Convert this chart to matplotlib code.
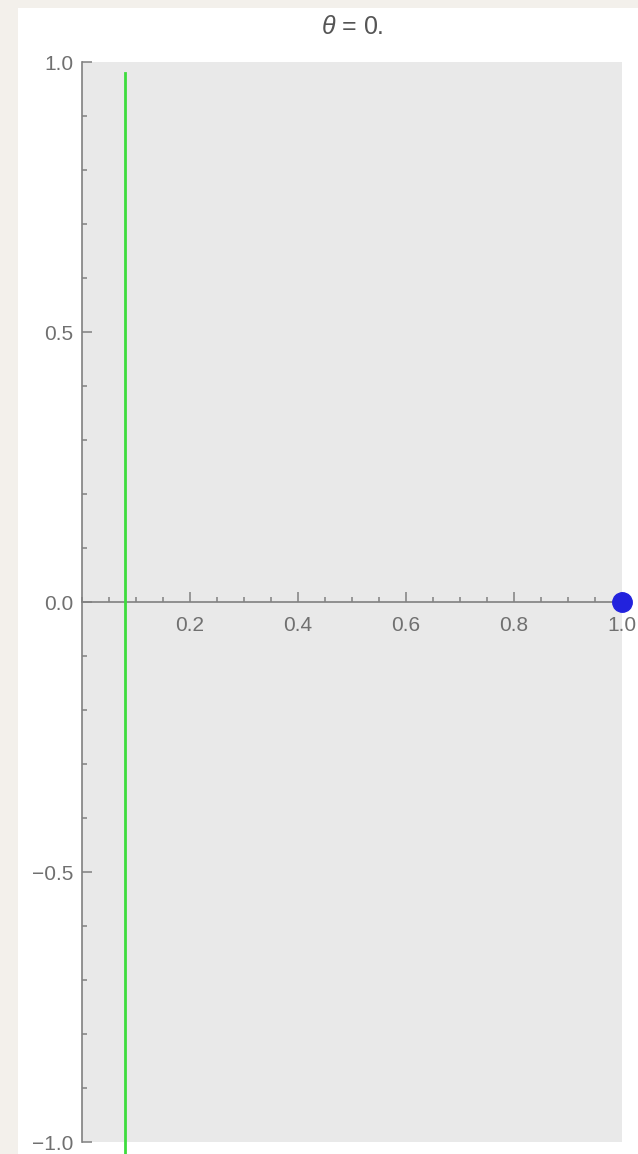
"""Recreate the theta = 0 frame: green vertical line plus blue point on the x-axis."""
import matplotlib

matplotlib.use("Agg")
import matplotlib.pyplot as plt
from matplotlib.patches import Rectangle
from matplotlib.ticker import FixedLocator, MultipleLocator

plt.rcParams["font.family"] = ["Liberation Sans", "DejaVu Sans"]
plt.rcParams["mathtext.fontset"] = "custom"
plt.rcParams["mathtext.rm"] = "Liberation Sans"
plt.rcParams["mathtext.it"] = "Liberation Sans:italic"

# data
theta_label = r"$\theta$ = 0."
line_x = [0.08, 0.08]
line_y = [-1.03, 0.98]
point_x = [1.0]
point_y = [0.0]
x_major = [0.2, 0.4, 0.6, 0.8, 1.0]
y_major = [-1.0, -0.5, 0.0, 0.5, 1.0]

W, H = 638, 1154
fig = plt.figure(figsize=(W / 100, H / 100), dpi=100)
fig.patch.set_facecolor("#f3f0eb")
# white panel behind the plot
fig.add_artist(Rectangle((18 / W, 0), 1 - 18 / W, 1 - 8 / H,
                         transform=fig.transFigure, facecolor="white",
                         edgecolor="none", zorder=0))

ax = fig.add_axes([82 / W, 12 / H, 540 / W, 1080 / H])
ax.set_facecolor("#e9e9e9")
ax.set_xlim(0, 1)
ax.set_ylim(-1, 1)

axis_col = "#808080"
for s in ("top", "right"):
    ax.spines[s].set_visible(False)
ax.spines["bottom"].set_position(("data", 0))
ax.spines["left"].set_position(("data", 0))
for s in ("bottom", "left"):
    ax.spines[s].set_color(axis_col)
    ax.spines[s].set_linewidth(1.2)

ax.xaxis.set_major_locator(FixedLocator(x_major))
ax.xaxis.set_minor_locator(MultipleLocator(0.05))
ax.yaxis.set_major_locator(FixedLocator(y_major))
ax.yaxis.set_minor_locator(MultipleLocator(0.1))
ax.set_xticklabels([f"{v:.1f}" for v in x_major])
ax.set_yticklabels([f"{v:.1f}".replace("-", "\u2212") for v in y_major])

ax.tick_params(which="both", direction="in", color=axis_col, width=1.1,
               labelcolor="#707070", labelsize=15)
ax.tick_params(which="major", length=7)
ax.tick_params(which="minor", length=3.5)
ax.tick_params(axis="x", pad=10)
ax.tick_params(axis="y", pad=6)

ax.plot(line_x, line_y, color="#3ddc3d", lw=2, clip_on=False, zorder=3)
ax.plot(point_x, point_y, "o", color="#2222dd", markersize=14, clip_on=False,
        zorder=4)

fig.text(352 / W, 1 - 27 / H, theta_label, ha="center", va="center",
         fontsize=18, color="#555555")

fig.savefig("out.png", dpi=100, facecolor=fig.get_facecolor())
